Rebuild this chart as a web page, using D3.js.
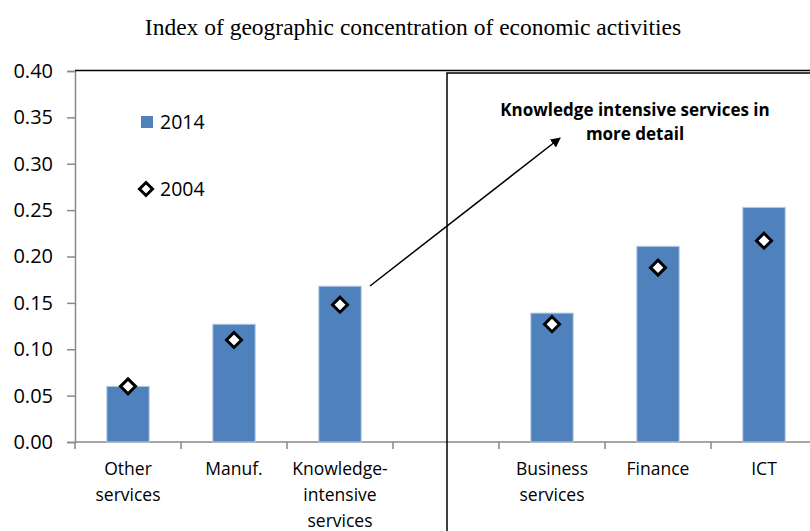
<!DOCTYPE html>
<html>
<head>
<meta charset="utf-8">
<script src="https://cdn.jsdelivr.net/npm/d3@7"></script>
<style>
  body { margin: 0; background: #fff; }
  svg { display: block; }
</style>
</head>
<body>
<div id="chart"></div>
<script>
// chart data
const categories = [
  ["Other", "services"],
  ["Manuf."],
  ["Knowledge-", "intensive", "services"],
  [],
  ["Business", "services"],
  ["Finance"],
  ["ICT"]
];
const values2014 = [0.060, 0.127, 0.168, null, 0.139, 0.211, 0.253];
const values2004 = [0.060, 0.110, 0.148, null, 0.127, 0.188, 0.217];
const yTicks = [0, 0.05, 0.10, 0.15, 0.20, 0.25, 0.30, 0.35, 0.40];
const seriesNames = ["2014", "2004"];

const width = 810;
const height = 531;
const margin = { left: 75, top: 71, bottom: 89 };
const slotWidth = 106;

const svg = d3.select("#chart")
  .append("svg")
  .attr("width", width)
  .attr("height", height);

const x = d3.scaleBand()
  .domain(d3.range(categories.length))
  .range([margin.left, margin.left + slotWidth * categories.length])
  .paddingInner(0.6)
  .paddingOuter(0.3);

const y = d3.scaleLinear()
  .domain([0, 0.40])
  .range([height - margin.bottom, margin.top]);

// title
svg.append("text")
  .attr("x", 413)
  .attr("y", 35)
  .attr("text-anchor", "middle")
  .style("font-family", "'Liberation Serif', 'Times New Roman', serif")
  .style("font-size", "23.5px")
  .text("Index of geographic concentration of economic activities");

// y axis
const yAxis = svg.append("g")
  .attr("transform", `translate(${margin.left},0)`)
  .call(d3.axisLeft(y).tickValues(yTicks).tickFormat(d3.format(".2f")).tickSize(8).tickPadding(14));
yAxis.select(".domain").attr("stroke", "#898989").attr("stroke-width", 1.5);
yAxis.selectAll(".tick line").attr("stroke", "#898989").attr("stroke-width", 1.5);
yAxis.selectAll(".tick text")
  .style("font-family", "'Open Sans', sans-serif")
  .style("font-size", "20px")
  .attr("fill", "#000");

// x axis line and ticks at slot boundaries
svg.append("line")
  .attr("x1", margin.left).attr("x2", width)
  .attr("y1", y(0)).attr("y2", y(0))
  .attr("stroke", "#898989").attr("stroke-width", 1.5);
svg.selectAll(".xtick")
  .data(d3.range(categories.length + 1))
  .join("line")
  .attr("class", "xtick")
  .attr("x1", (i) => margin.left + i * slotWidth)
  .attr("x2", (i) => margin.left + i * slotWidth)
  .attr("y1", y(0))
  .attr("y2", y(0) + 7)
  .attr("stroke", "#898989")
  .attr("stroke-width", 1.5);

// category labels
const labels = svg.selectAll(".cat")
  .data(categories)
  .join("text")
  .attr("class", "cat")
  .attr("text-anchor", "middle")
  .style("font-family", "'Open Sans', sans-serif")
  .style("font-size", "17.5px")
  .attr("transform", (d, i) => `translate(${x(i) + x.bandwidth() / 2},${y(0) + 33})`);
labels.selectAll("tspan")
  .data((d) => d)
  .join("tspan")
  .attr("x", 0)
  .attr("dy", (d, i) => (i === 0 ? 0 : 26))
  .text((d) => d);

// bars 2014
svg.selectAll(".bar")
  .data(values2014.map((v, i) => ({ v, i })).filter((d) => d.v !== null))
  .join("rect")
  .attr("class", "bar")
  .attr("x", (d) => x(d.i))
  .attr("y", (d) => y(d.v))
  .attr("width", x.bandwidth())
  .attr("height", (d) => y(0) - y(d.v))
  .attr("fill", "#4F81BD")
  .attr("stroke", "#B9CDE5")
  .attr("stroke-width", 1);

// diamonds 2004
const diamond = "M0,-7.5L7.5,0L0,7.5L-7.5,0Z";
svg.selectAll(".dot")
  .data(values2004.map((v, i) => ({ v, i })).filter((d) => d.v !== null))
  .join("path")
  .attr("class", "dot")
  .attr("d", diamond)
  .attr("transform", (d) => `translate(${x(d.i) + x.bandwidth() / 2},${y(d.v)})`)
  .attr("fill", "#fff")
  .attr("stroke", "#000")
  .attr("stroke-width", 3);

// plot top border and detail box
svg.append("line")
  .attr("x1", margin.left).attr("x2", width)
  .attr("y1", 70.5).attr("y2", 70.5)
  .attr("stroke", "#000").attr("stroke-width", 1.5);
svg.append("path")
  .attr("d", `M447,${height}V73H${width}`)
  .attr("fill", "none")
  .attr("stroke", "#000")
  .attr("stroke-width", 1.5);

// legend
svg.append("rect")
  .attr("x", 141).attr("y", 116)
  .attr("width", 12).attr("height", 12)
  .attr("fill", "#4F81BD");
svg.append("path")
  .attr("d", "M0,-6.5L6.5,0L0,6.5L-6.5,0Z")
  .attr("transform", "translate(146,189)")
  .attr("fill", "#fff")
  .attr("stroke", "#000")
  .attr("stroke-width", 3);
svg.selectAll(".leg")
  .data(seriesNames)
  .join("text")
  .attr("class", "leg")
  .attr("x", 160)
  .attr("y", (d, i) => (i === 0 ? 129 : 196))
  .style("font-family", "'Open Sans', sans-serif")
  .style("font-size", "19.5px")
  .text((d) => d);

// annotation arrow
svg.append("defs").append("marker")
  .attr("id", "arrow")
  .attr("viewBox", "0 0 10 10")
  .attr("refX", 9).attr("refY", 5)
  .attr("markerWidth", 10).attr("markerHeight", 10)
  .attr("markerUnits", "userSpaceOnUse")
  .attr("orient", "auto")
  .append("path")
  .attr("d", "M0,0L10,5L0,10Z")
  .attr("fill", "#000");
svg.append("line")
  .attr("x1", 370).attr("y1", 286)
  .attr("x2", 560).attr("y2", 138)
  .attr("stroke", "#000")
  .attr("stroke-width", 1.5)
  .attr("marker-end", "url(#arrow)");

const note = svg.append("text")
  .attr("text-anchor", "middle")
  .style("font-family", "'Open Sans', sans-serif")
  .style("font-size", "17px")
  .style("font-weight", "bold");
note.append("tspan").attr("x", 635).attr("y", 116).text("Knowledge intensive services in");
note.append("tspan").attr("x", 635).attr("y", 140).text("more detail");
</script>
</body>
</html>
